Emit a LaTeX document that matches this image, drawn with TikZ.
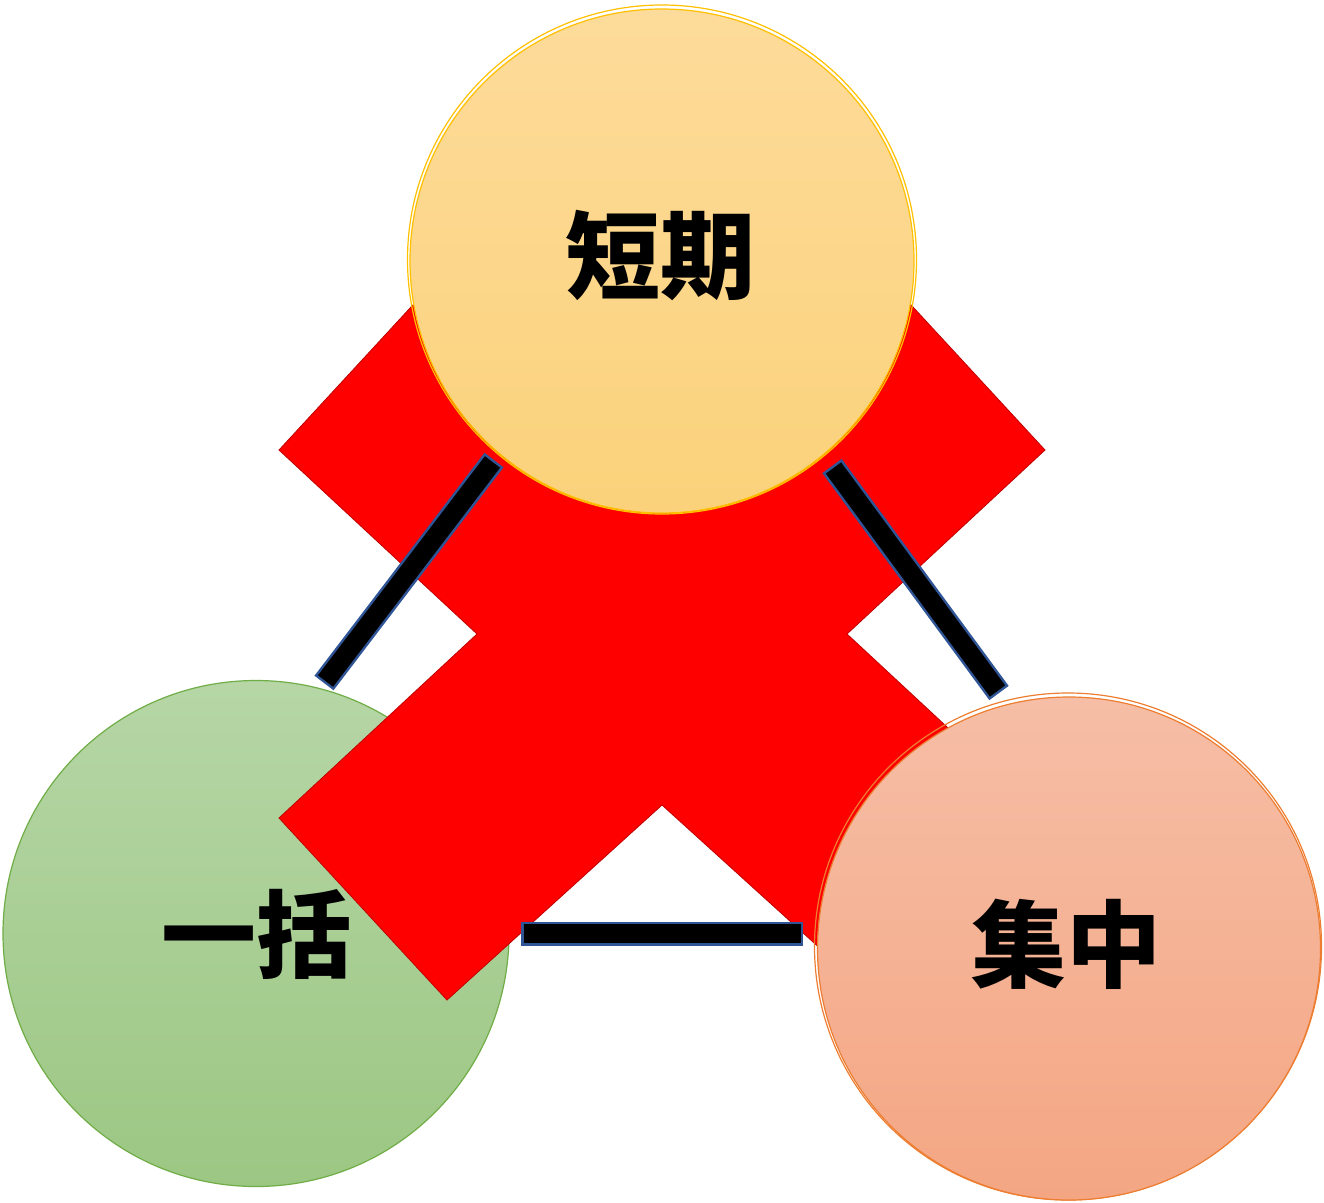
\documentclass[tikz,border=0pt]{standalone}
\usepackage{fontspec}
\newfontfamily\jp{Noto Sans CJK JP}
\definecolor{topA}{HTML}{FDDB9A}
\definecolor{topB}{HTML}{FBD27B}
\definecolor{topL}{HTML}{FFC000}
\definecolor{grnA}{HTML}{B6D6A6}
\definecolor{grnB}{HTML}{9CC783}
\definecolor{grnL}{HTML}{70AD47}
\definecolor{salA}{HTML}{F6BEA6}
\definecolor{salB}{HTML}{F4A683}
\definecolor{salL}{HTML}{ED7D31}
\definecolor{xred}{HTML}{FF0000}
\definecolor{xredL}{HTML}{C00000}
\definecolor{barL}{HTML}{2F5597}
\begin{document}
\begin{tikzpicture}[x=1pt,y=-1pt,
  ball/.style={circle, inner sep=0pt, minimum size=#1, line width=1.2pt},
  lbl/.style={font=\jp\bfseries\fontsize{95}{95}\selectfont, text=black, inner sep=0pt},
  barouter/.style={draw=barL, line width=24pt},
  barinner/.style={draw=black, line width=19pt, shorten >=2.5pt, shorten <=2.5pt}]
\useasboundingbox (0,0) rectangle (1324,1202);
% green circle
\node[ball=506pt, top color=grnA, bottom color=grnB, draw=grnL] (ikkatsu) at (256,933.5) {};
\node[lbl] (tIkkatsu) at (256,934) {一括};
% red X
\draw[fill=xred, draw=xredL, line width=0.8pt]
  (279,450) -- (447,268) -- (662,463) -- (877,268) -- (1045,450) -- (847,634)
  -- (1045,818) -- (877,1000) -- (662,805) -- (447,1000) -- (279,818) -- (477,634) -- cycle;
% bars
\coordinate (l1) at (494,460);
\coordinate (l2) at (324,683);
\coordinate (r1) at (832,466);
\coordinate (r2) at (999,693);
\coordinate (b1) at (521,933.5);
\coordinate (b2) at (803,933.5);
\foreach \a/\b in {l1/l2, r1/r2, b1/b2}{
  \draw[barouter] (\a) -- (\b);
  \draw[barinner] (\a) -- (\b);
}
% top circle
\draw[topL, line width=1.2pt] (662,259.5) circle[radius=254.5pt];
\node[ball=504pt, top color=topA, bottom color=topB, draw=topL] (tanki) at (662,261) {};
\node[lbl] (tTanki) at (660,255) {短期};
% salmon circle
\draw[salL, line width=1.2pt] (1068,946.5) circle[radius=253.5pt];
\node[ball=503pt, top color=salA, bottom color=salB, draw=salL] (shuchu) at (1069,948.5) {};
\node[lbl] (tShuchu) at (1066,944) {集中};
\end{tikzpicture}
\end{document}
